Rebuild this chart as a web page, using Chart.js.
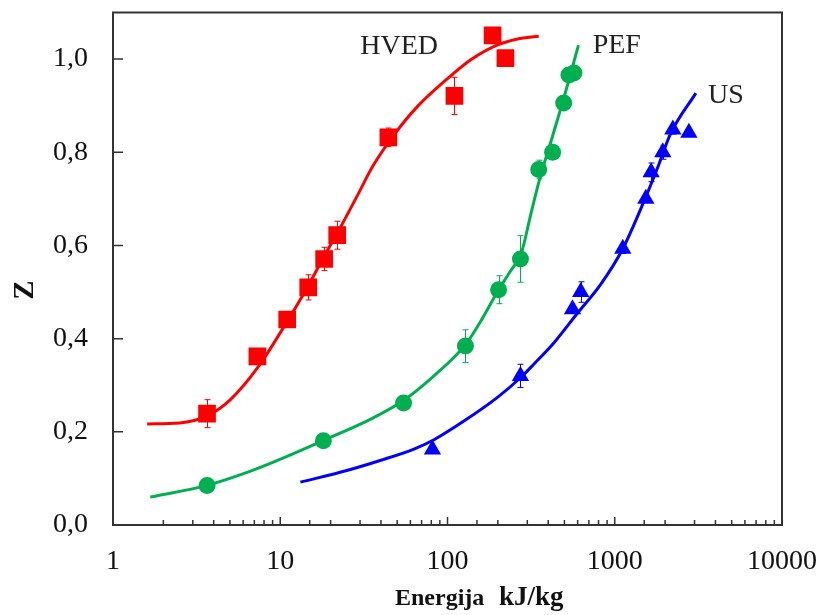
<!DOCTYPE html>
<html>
<head>
<meta charset="utf-8">
<script src="https://cdn.jsdelivr.net/npm/chart.js@4.4.0/dist/chart.umd.min.js"></script>
<style>
  html, body { margin: 0; padding: 0; background: #fff; }
  #wrap { width: 823px; height: 615px; position: relative; }
</style>
</head>
<body>
<div id="wrap"><canvas id="chart"></canvas></div>
<script>
// measured points (energy kJ/kg, Z) and error bar half-heights
const hvedX = [3.65, 7.3, 11.0, 14.7, 18.3, 21.9, 44.3, 110, 186, 222];
const hvedY = [0.239, 0.362, 0.441, 0.51, 0.571, 0.622, 0.832, 0.921, 1.051, 1.002];
const hvedErr = [0.03, 0, 0, 0.027, 0.025, 0.03, 0.02, 0.04, 0, 0];

const pefX = [3.65, 18.1, 54.6, 128, 202, 273, 351, 425, 495, 532, 570];
const pefY = [0.085, 0.181, 0.262, 0.384, 0.505, 0.571, 0.763, 0.80, 0.906, 0.966, 0.97];
const pefErr = [0, 0, 0, 0.035, 0.03, 0.05, 0.02, 0, 0.01, 0.01, 0];

const usX = [81.3, 273, 559, 626, 1117, 1534, 1650, 1938, 2225, 2775];
const usY = [0.162, 0.32, 0.463, 0.50, 0.593, 0.70, 0.757, 0.80, 0.849, 0.842];
const usErr = [0, 0.025, 0, 0.022, 0.01, 0, 0.02, 0.015, 0.01, 0];

// fitted curves
const hvedFitX = [1.6, 2.5, 3.65, 5.0, 7.3, 11, 14.5, 18, 23, 29, 36, 48, 66, 100, 137, 189, 262, 351];
const hvedFitY = [0.217, 0.219, 0.234, 0.268, 0.337, 0.437, 0.51, 0.572, 0.640, 0.708, 0.772, 0.838, 0.898, 0.958, 0.998, 1.027, 1.043, 1.049];

const pefFitX = [1.67, 3.65, 5.8, 9.1, 18, 36, 54, 83, 128, 162, 202, 238, 277, 314, 351, 425, 495, 607];
const pefFitY = [0.060, 0.085, 0.108, 0.135, 0.181, 0.230, 0.266, 0.320, 0.387, 0.444, 0.505, 0.545, 0.585, 0.665, 0.735, 0.835, 0.915, 1.03];

const usFitX = [13.2, 25, 40, 63, 83, 124, 199, 273, 328, 440, 596, 822, 1117, 1496, 1818, 2157, 3054];
const usFitY = [0.092, 0.117, 0.139, 0.163, 0.183, 0.222, 0.274, 0.316, 0.345, 0.394, 0.454, 0.516, 0.593, 0.695, 0.77, 0.84, 0.927];

const seriesNames = ["HVED", "PEF", "US"];
const xTitle = ["Energija", "kJ/kg"];
const yTitle = "Z";

const RED = "#ff0000";
const GREEN = "#00b050";
const BLUE = "#0000ff";
const SERIF = "'Liberation Serif', 'Times New Roman', serif";

function pts(xs, ys) {
  return xs.map((x, i) => ({ x: x, y: ys[i] }));
}

function fitLine(xs, ys, color) {
  return {
    type: "line",
    data: pts(xs, ys),
    borderColor: color,
    borderWidth: 3,
    pointRadius: 0,
    fill: false,
    cubicInterpolationMode: "monotone",
    order: 2
  };
}

function marks(xs, ys, err, color, style, r) {
  return {
    type: "scatter",
    data: pts(xs, ys),
    err: err,
    backgroundColor: color,
    borderColor: color,
    borderWidth: 0,
    pointStyle: style,
    pointRadius: r,
    order: 1
  };
}

// keep the plot box where the picture has it
function noPad(s) {
  s.paddingLeft = 0; s.paddingRight = 0;
  s.paddingTop = 0; s.paddingBottom = 0;
}

// error bars, frame, inward ticks and free text
const decor = {
  id: "decor",
  beforeDatasetsDraw(chart) {
    const ctx = chart.ctx;
    const xs = chart.scales.x, ys = chart.scales.y;
    chart.data.datasets.forEach(ds => {
      if (!ds.err) return;
      ctx.save();
      ctx.strokeStyle = ds.borderColor;
      ctx.lineWidth = 1;
      ds.data.forEach((p, i) => {
        const e = ds.err[i];
        if (!e) return;
        const px = Math.round(xs.getPixelForValue(p.x)) + 0.5;
        const y1 = ys.getPixelForValue(p.y + e);
        const y2 = ys.getPixelForValue(p.y - e);
        ctx.beginPath();
        ctx.moveTo(px, y1); ctx.lineTo(px, y2);
        ctx.moveTo(px - 3, y1); ctx.lineTo(px + 3, y1);
        ctx.moveTo(px - 3, y2); ctx.lineTo(px + 3, y2);
        ctx.stroke();
      });
      ctx.restore();
    });
  },
  afterDraw(chart) {
    const ctx = chart.ctx;
    const a = chart.chartArea;
    const xs = chart.scales.x, ys = chart.scales.y;
    ctx.save();
    ctx.strokeStyle = "#333";
    ctx.lineWidth = 2;
    ctx.strokeRect(a.left, a.top, a.right - a.left, a.bottom - a.top);

    // tick marks pointing into the plot
    ctx.lineWidth = 1.5;
    ctx.beginPath();
    xs.ticks.forEach(t => {
      const lg = Math.log10(t.value);
      const major = Math.abs(lg - Math.round(lg)) < 1e-6;
      const px = xs.getPixelForValue(t.value);
      ctx.moveTo(px, a.bottom);
      ctx.lineTo(px, a.bottom - (major ? 8 : 5));
    });
    ys.ticks.forEach(t => {
      const py = ys.getPixelForValue(t.value);
      ctx.moveTo(a.left, py);
      ctx.lineTo(a.left + 10, py);
    });
    ctx.stroke();

    // series names next to the curves
    ctx.fillStyle = "#222";
    ctx.font = "28px " + SERIF;
    ctx.textBaseline = "alphabetic";
    ctx.fillText(seriesNames[0], xs.getPixelForValue(30.1), ys.getPixelForValue(1.011));
    ctx.fillText(seriesNames[1], xs.getPixelForValue(738), ys.getPixelForValue(1.013));
    ctx.fillText(seriesNames[2], xs.getPixelForValue(3606), ys.getPixelForValue(0.906));

    // axis titles
    ctx.fillStyle = "#111";
    ctx.font = "bold 24px " + SERIF;
    ctx.fillText(xTitle[0], 395, 605);
    ctx.font = "bold 27px " + SERIF;
    ctx.fillText(xTitle[1], 499, 605);

    ctx.translate(33, 290);
    ctx.rotate(-Math.PI / 2);
    ctx.font = "bold 29px " + SERIF;
    ctx.textAlign = "center";
    ctx.fillText(yTitle, 0, 0);
    ctx.restore();
  }
};

new Chart(document.getElementById("chart"), {
  data: {
    datasets: [
      fitLine(hvedFitX, hvedFitY, RED),
      fitLine(pefFitX, pefFitY, GREEN),
      fitLine(usFitX, usFitY, BLUE),
      marks(hvedX, hvedY, hvedErr, RED, "rect", 12.5),
      marks(pefX, pefY, pefErr, GREEN, "circle", 8.5),
      marks(usX, usY, usErr, BLUE, "triangle", 10)
    ]
  },
  options: {
    responsive: true,
    maintainAspectRatio: false,
    animation: false,
    layout: { padding: { top: 8, right: 41, left: 0, bottom: 0 } },
    plugins: {
      legend: { display: false },
      tooltip: { enabled: false }
    },
    scales: {
      x: {
        type: "logarithmic",
        min: 1,
        max: 10000,
        afterFit(s) { s.height = 90; noPad(s); },
        grid: { display: true, drawOnChartArea: false, drawTicks: false },
        border: { display: false },
        ticks: {
          autoSkip: false,
          maxRotation: 0,
          padding: 20,
          color: "#111",
          font: { family: SERIF, size: 28 },
          callback(value) {
            const lg = Math.log10(value);
            return Math.abs(lg - Math.round(lg)) < 1e-6 ? String(value) : "";
          }
        }
      },
      y: {
        min: 0,
        max: 1.1,
        afterFit(s) { s.width = 113; noPad(s); },
        grid: { display: true, drawOnChartArea: false, drawTicks: false },
        border: { display: false },
        ticks: {
          stepSize: 0.2,
          includeBounds: false,
          padding: 25,
          color: "#111",
          font: { family: SERIF, size: 28 },
          callback(value) {
            return value.toFixed(1).replace(".", ",");
          }
        }
      }
    }
  },
  plugins: [decor]
});
</script>
</body>
</html>
